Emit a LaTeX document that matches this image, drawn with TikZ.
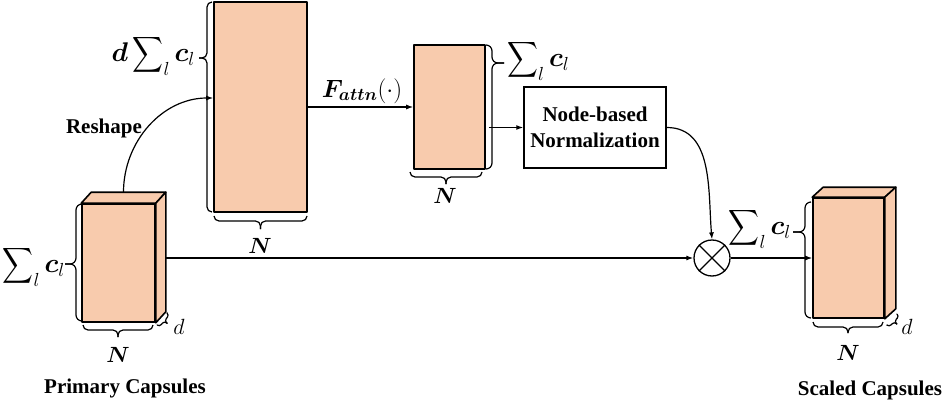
\RequirePackage{fix-cm}
\documentclass[tikz,border=0pt]{standalone}
\usepackage{amsmath}
\usepackage{bm}
\usepackage{fontspec}
\setmainfont{Liberation Serif}
\usetikzlibrary{calc,arrows.meta}
\definecolor{peach}{HTML}{F8CBAD}

% custom brace: x, y (start), angle, length, tip position, spine offset, tip amplitude
\newcommand\cbrace[7]{%
  \begin{scope}[shift={(#1,#2)},rotate=#3]
    \draw[brc,rounded corners=#6pt] (0,0) -- (0,#6) -- (#5,#6) -- (#5,#7);
    \draw[brc,rounded corners=#6pt] (#5,#7) -- (#5,#6) -- (#4,#6) -- (#4,0);
  \end{scope}}
\newcommand\nsum{\mathop{\scalebox{0.86}[1]{$\displaystyle\sum$}}\nolimits}

\begin{document}
\begin{tikzpicture}[x=1pt,y=1pt,
  capbox/.style={draw,line width=1.6pt,fill=peach,inner sep=0pt,line join=round},
  face/.style={draw,line width=1.6pt,fill=peach,line join=round},
  conn/.style={line width=1.2pt,-{Latex[length=7pt,width=5pt]}},
  brc/.style={line width=1.2pt},
  lbl/.style={font=\fontsize{21}{26}\selectfont\bfseries,inner sep=0pt},
  sumlbl/.style={font=\fontsize{27}{31}\selectfont,inner sep=0pt},
  mlbl/.style={font=\fontsize{22}{26}\selectfont,inner sep=0pt}]
\useasboundingbox (0,0) rectangle (948,-404);

% primary capsules
\node[capbox,minimum width=73pt,minimum height=118pt] (P) at (118.5,-263) {};
\draw[face] (P.north west) -- ++(10,11) -- ([shift={(10,11)}]P.north east) -- (P.north east) -- cycle;
\draw[face] (P.north east) -- ++(10,11) -- ([shift={(10,11)}]P.south east) -- (P.south east) -- cycle;

% reshaped
\node[capbox,minimum width=93pt,minimum height=210pt] (R) at (260.5,-107) {};
% attention
\node[capbox,minimum width=71pt,minimum height=124pt] (S) at (449.5,-107) {};
% normalization box
\node[draw,line width=1.5pt,minimum width=142pt,minimum height=81pt,align=center,lbl] (B) at (595,-127.5) {Node-based\\Normalization};
% multiply
\node[draw,circle,line width=1.3pt,minimum size=36pt,inner sep=0pt] (C) at (712,-258) {};
\draw[line width=1.2pt] (C.north west) -- (C.south east) (C.north east) -- (C.south west);

% scaled capsules
\node[capbox,minimum width=71pt,minimum height=120pt] (Sc) at (848.5,-258) {};
\draw[face] (Sc.north west) -- ++(11,10) -- ([shift={(11,10)}]Sc.north east) -- (Sc.north east) -- cycle;
\draw[face] (Sc.north east) -- ++(11,10) -- ([shift={(11,10)}]Sc.south east) -- (Sc.south east) -- cycle;

% connectors
\draw[conn] ([shift={(5,11)}]P.north) to[out=90,in=180] ([yshift=9pt]R.west);
\draw[conn] (R.east) -- (S.west);
\draw[conn] ($(S.east |- B.west)+(3,0)$) -- (B.west);
\draw[conn] (B.east) to[out=0,in=95] (C.north);
\draw[conn] ($(P.east |- C.west)+(10,0)$) -- (C.west);
\draw[conn] (C.east) -- (Sc.west);

% braces
\cbrace{82}{-321}{90}{117}{57}{6}{17}
\cbrace{153}{-325}{180}{70}{35}{5}{12}
\cbrace{167}{-313}{230.2}{15.6}{7.8}{3}{7}
\cbrace{212}{-212}{90}{210}{154}{5}{13}
\cbrace{307}{-216}{180}{93}{46.5}{5}{13}
\cbrace{486}{-45}{-90}{124}{18}{6}{18}
\cbrace{482}{-172}{180}{72}{36}{5}{12}
\cbrace{811}{-318}{90}{116}{86}{6}{18}
\cbrace{883}{-322}{180}{70}{35}{5}{11}
\cbrace{897}{-314}{227.7}{14.9}{7.5}{3}{7}

% labels
\node[lbl] (pcap) at (125,-388) {Primary Capsules};
\node[lbl] (scap) at (870,-390) {Scaled Capsules};
\node[lbl] (resh) at (104,-128) {Reshape};
\node[mlbl,font=\fontsize{25}{28}\selectfont] (fat) at (362,-91) {$\bm{F_{attn}}(\cdot)$};
\node[mlbl] (n1) at (118,-355) {$\bm{N}$};
\node[mlbl] (n2) at (260,-246) {$\bm{N}$};
\node[mlbl] (n3) at (445,-196) {$\bm{N}$};
\node[mlbl] (n4) at (848,-353) {$\bm{N}$};
\node[mlbl] (d1) at (179,-327) {$d$};
\node[mlbl] (d2) at (907,-327) {$d$};
\node[sumlbl,anchor=east] (s1) at (65,-266) {$\nsum_l \bm{c}_l$};
\node[sumlbl,anchor=east] (s2) at (195,-55) {$\bm{d}\nsum_l \bm{c}_l$};
\node[sumlbl,anchor=west] (s3) at (507,-60) {$\nsum_l \bm{c}_l$};
\node[sumlbl,anchor=east] (s4) at (791,-228) {$\nsum_l \bm{c}_l$};
\end{tikzpicture}
\end{document}
